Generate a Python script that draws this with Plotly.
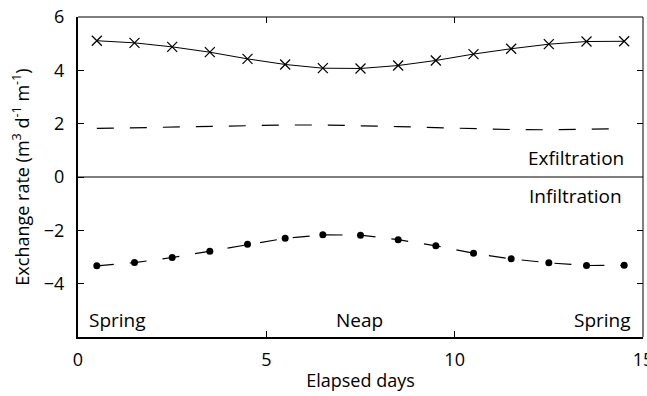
import plotly.graph_objects as go

days = [0.5, 1.5, 2.5, 3.5, 4.5, 5.5, 6.5, 7.5, 8.5, 9.5, 10.5, 11.5, 12.5, 13.5, 14.5]
exfil_total = [5.11, 5.03, 4.88, 4.68, 4.43, 4.22, 4.08, 4.07, 4.18, 4.37, 4.61, 4.81, 4.98, 5.08, 5.09]
exfil_dashed = [1.82, 1.85, 1.88, 1.91, 1.94, 1.95, 1.95, 1.93, 1.89, 1.85, 1.81, 1.78, 1.77, 1.78, 1.81]
infil = [-3.33, -3.21, -3.02, -2.78, -2.52, -2.30, -2.17, -2.18, -2.35, -2.58, -2.86, -3.07, -3.22, -3.32, -3.31]

x_ticks = [0, 5, 10, 15]
y_ticks = [-4, -2, 0, 2, 4, 6]

FONT = "Open Sans"
fig = go.Figure()

fig.add_trace(go.Scatter(x=days, y=exfil_total, mode="lines+markers",
                         line=dict(color="black", width=1),
                         marker=dict(symbol="x-thin", size=10, line=dict(color="black", width=1.2)),
                         showlegend=False))
fig.add_trace(go.Scatter(x=days, y=exfil_dashed, mode="lines",
                         line=dict(color="black", width=1.2, dash="17px,16px"),
                         showlegend=False))
fig.add_trace(go.Scatter(x=days, y=infil, mode="lines+markers",
                         line=dict(color="black", width=1.2, dash="17px,16px"),
                         marker=dict(symbol="circle", size=7, color="black"),
                         showlegend=False))
# invisible trace for mirrored axes
fig.add_trace(go.Scatter(x=[0], y=[0], xaxis="x2", yaxis="y2", mode="markers",
                         marker=dict(opacity=0), showlegend=False, hoverinfo="skip"))

fig.add_hline(y=0, line=dict(color="black", width=1))

ann_font = dict(family=FONT, size=19, color="black")
fig.add_annotation(x=14.55, y=0.72, text="Exfiltration", showarrow=False,
                   xanchor="right", yanchor="middle", font=ann_font)
fig.add_annotation(x=14.5, y=-0.72, text="Infiltration", showarrow=False,
                   xanchor="right", yanchor="middle", font=ann_font)
fig.add_annotation(x=0.25, y=-5.36, text="Spring", showarrow=False,
                   xanchor="left", yanchor="middle", font=ann_font)
fig.add_annotation(x=7.47, y=-5.36, text="Neap", showarrow=False,
                   xanchor="center", yanchor="middle", font=ann_font)
fig.add_annotation(x=14.73, y=-5.36, text="Spring", showarrow=False,
                   xanchor="right", yanchor="middle", font=ann_font)

# thin top/right frame
fig.add_shape(type="line", xref="paper", yref="paper", x0=0, x1=1, y0=1, y1=1,
              line=dict(color="black", width=1))
fig.add_shape(type="line", xref="paper", yref="paper", x0=1, x1=1, y0=0, y1=1,
              line=dict(color="black", width=1))

fig.update_layout(
    width=647, height=396,
    margin=dict(l=78, r=4, t=17, b=59, autoexpand=False),
    paper_bgcolor="white", plot_bgcolor="white",
    font=dict(family=FONT, size=18, color="black"),
    xaxis=dict(range=[0, 15], tickvals=x_ticks, ticks="inside", ticklen=6, tickwidth=1,
               tickcolor="black", showline=True, linewidth=2, linecolor="black",
               showgrid=False, zeroline=False, ticklabelstandoff=5, automargin=False,
               ticklabeloverflow="allow", tickfont=dict(size=18),
               title=dict(text="Elapsed days", standoff=5, font=dict(size=18))),
    yaxis=dict(range=[-6, 6], tickvals=y_ticks, ticks="inside", ticklen=6, tickwidth=1,
               tickcolor="black", showline=True, linewidth=2, linecolor="black",
               showgrid=False, zeroline=False, ticklabelstandoff=8, automargin=False,
               ticklabeloverflow="allow", tickfont=dict(size=18),
               title=dict(text="Exchange rate (m<sup>3</sup> d<sup>-1</sup> m<sup>-1</sup>)",
                          standoff=10, font=dict(size=18))),
    xaxis2=dict(range=[0, 15], tickvals=[5, 10], ticks="inside", ticklen=6, tickwidth=1,
                tickcolor="black", overlaying="x", side="top", anchor="y", automargin=False,
                showticklabels=False, showgrid=False, zeroline=False, showline=False),
    yaxis2=dict(range=[-6, 6], tickvals=[-4, -2, 2, 4], ticks="inside", ticklen=6, tickwidth=1,
                tickcolor="black", overlaying="y", side="right", anchor="x", automargin=False,
                showticklabels=False, showgrid=False, zeroline=False, showline=False),
)

fig.write_html("out.html")
